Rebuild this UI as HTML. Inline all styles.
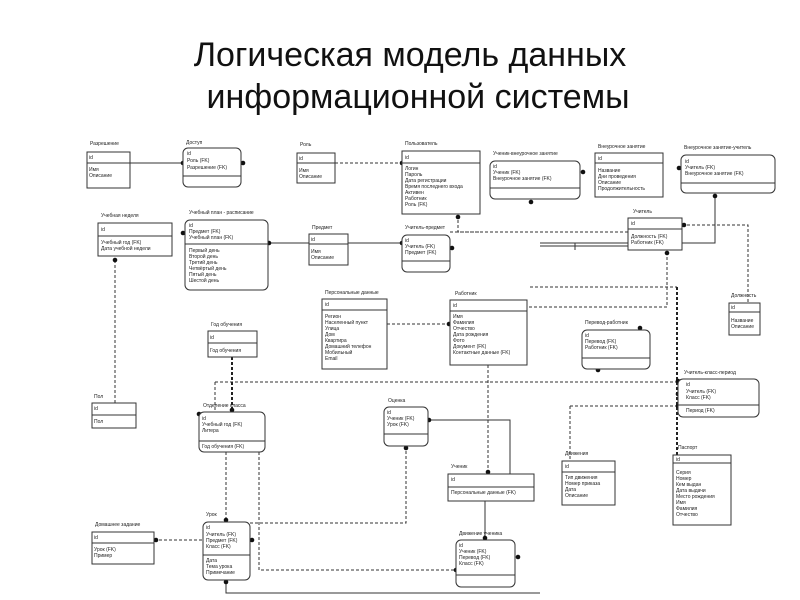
<!DOCTYPE html>
<html><head><meta charset="utf-8"><style>
html,body{margin:0;padding:0;background:#fff;width:800px;height:600px;overflow:hidden}
svg{display:block}
text{font-family:"Liberation Sans","DejaVu Sans",sans-serif;fill:#222}
.t{font-size:5px}
.h{font-size:5px}
.b{fill:#fff;stroke:#333;stroke-width:1}
.s{stroke:#333;stroke-width:1;fill:none}
.d{stroke:#333;stroke-width:1;fill:none;stroke-dasharray:3,2}
.dt{stroke:#222;stroke-width:2;fill:none;stroke-dasharray:3,2}
.title{font-size:34px;fill:#111}
</style></head><body>
<svg width="800" height="600" viewBox="0 0 800 600" xmlns="http://www.w3.org/2000/svg">
<text class="title" x="410" y="66" text-anchor="middle">Логическая модель данных</text>
<text class="title" x="418" y="108" text-anchor="middle">информационной системы</text>

<g>
<path class="s" d="M130 163H183"/>
<path class="d" d="M335 163H402"/>
<path class="d" d="M115 260V403"/>
<path class="s" d="M268 243H309"/>
<path class="s" d="M348 243H402"/>
<path class="d" d="M458 215V232H480"/>
<path class="d" d="M450 232H628"/>
<path class="s" d="M540 243H628M540 246H628"/>
<path class="d" d="M682 225H748V303"/>
<path class="s" d="M682 243H715V196"/>
<path class="d" d="M667 252V307H527"/>
<path class="d" d="M530 287H677"/>
<path class="dt" d="M677 287V455"/>
<path class="d" d="M387 324H450"/>
<path class="d" d="M215 382H678"/>
<path class="dt" d="M232 357V412"/>
<path class="d" d="M215 382V412"/>
<path class="d" d="M570 406H678"/>
<path class="d" d="M570 406V460"/>
<path class="s" d="M430 420H510V474"/>
<path class="d" d="M406 446V523H250"/>
<path class="d" d="M488 365V474"/>
<path class="s" d="M485 501V540"/>
<path class="d" d="M226 452V522"/>
<path class="d" d="M259 452V570H456"/>
<path class="d" d="M154 540H203"/>
<path class="s" d="M226 580V593H540"/>
<path class="s" d="M575 243V250"/>
</g>
<g fill="#111">
<circle cx="183" cy="163" r="2.3"/><circle cx="243" cy="163" r="2.3"/><circle cx="402" cy="163" r="2.3"/>
<circle cx="115" cy="260" r="2.3"/><circle cx="183" cy="233" r="2.3"/><circle cx="269" cy="243" r="2.3"/>
<circle cx="402" cy="243" r="2.3"/><circle cx="452" cy="248" r="2.3"/><circle cx="458" cy="217" r="2.3"/>
<circle cx="583" cy="172" r="2.3"/><circle cx="531" cy="202" r="2.3"/><circle cx="679" cy="168" r="2.3"/>
<circle cx="715" cy="196" r="2.3"/><circle cx="684" cy="225" r="2.3"/><circle cx="667" cy="253" r="2.3"/>
<circle cx="449" cy="324" r="2.3"/><circle cx="640" cy="328" r="2.3"/><circle cx="598" cy="370" r="2.3"/>
<circle cx="678" cy="381" r="2.3"/><circle cx="678" cy="394" r="2.3"/><circle cx="678" cy="406" r="2.3"/>
<circle cx="232" cy="410" r="2.3"/><circle cx="199" cy="414" r="2.3"/><circle cx="429" cy="420" r="2.3"/>
<circle cx="406" cy="448" r="2.3"/><circle cx="488" cy="472" r="2.3"/><circle cx="226" cy="520" r="2.3"/>
<circle cx="252" cy="540" r="2.3"/><circle cx="156" cy="540" r="2.3"/><circle cx="226" cy="582" r="2.3"/>
<circle cx="485" cy="538" r="2.3"/><circle cx="456" cy="570" r="2.3"/><circle cx="518" cy="557" r="2.3"/>
</g>

<g>
<text class="h" x="90" y="145">Разрешение</text>
<rect class="b" x="87" y="152" width="43" height="36"/><path class="s" d="M87 163H130"/>
<text class="t" x="89" y="159">id</text><text class="t" x="89" y="171">Имя</text><text class="t" x="89" y="177">Описание</text>
<text class="h" x="186" y="144">Доступ</text>
<rect class="b" x="183" y="148" width="58" height="39" rx="5"/><path class="s" d="M183 176H241"/>
<text class="t" x="187" y="155">id</text><text class="t" x="187" y="162">Роль (FK)</text><text class="t" x="187" y="169">Разрешение  (FK)</text>
<text class="h" x="300" y="146">Роль</text>
<rect class="b" x="297" y="153" width="38" height="30"/><path class="s" d="M297 163H335"/>
<text class="t" x="299" y="160">id</text><text class="t" x="299" y="172">Имя</text><text class="t" x="299" y="178">Описание</text>
<text class="h" x="405" y="145">Пользователь</text>
<rect class="b" x="402" y="151" width="78" height="63"/><path class="s" d="M402 163H480"/>
<text class="t" x="405" y="159">id</text>
<text class="t" x="405" y="170">Логин</text><text class="t" x="405" y="176">Пароль</text><text class="t" x="405" y="182">Дата регистрации</text><text class="t" x="405" y="188">Время последнего входа</text><text class="t" x="405" y="194">Активен</text><text class="t" x="405" y="200">Работник</text><text class="t" x="405" y="206">Роль (FK)</text>
<text class="h" x="493" y="155">Ученик-внеурочное занятие</text>
<rect class="b" x="490" y="161" width="90" height="38" rx="5"/><path class="s" d="M490 188H580"/>
<text class="t" x="493" y="168">id</text><text class="t" x="493" y="174">Ученик (FK)</text><text class="t" x="493" y="180">Внеурочное занятие  (FK)</text>
<text class="h" x="598" y="148">Внеурочное занятие</text>
<rect class="b" x="595" y="153" width="68" height="44"/><path class="s" d="M595 163H663"/>
<text class="t" x="598" y="160">id</text><text class="t" x="598" y="172">Название</text><text class="t" x="598" y="178">Дни проведения</text><text class="t" x="598" y="184">Описание</text><text class="t" x="598" y="190">Продолжительность</text>
<text class="h" x="684" y="149">Внеурочное занятие-учитель</text>
<rect class="b" x="681" y="155" width="94" height="38" rx="5"/><path class="s" d="M681 183H775"/>
<text class="t" x="685" y="163">id</text><text class="t" x="685" y="169">Учитель (FK)</text><text class="t" x="685" y="175">Внеурочное занятие  (FK)</text>
<text class="h" x="633" y="213">Учитель</text>
<rect class="b" x="628" y="218" width="54" height="32"/><path class="s" d="M628 229H682"/>
<text class="t" x="631" y="225">id</text><text class="t" x="631" y="238">Должность (FK)</text><text class="t" x="631" y="244">Работник (FK)</text>
<text class="h" x="101" y="217">Учебная неделя</text>
<rect class="b" x="98" y="223" width="74" height="33"/><path class="s" d="M98 236H172"/>
<text class="t" x="101" y="231">id</text><text class="t" x="101" y="244">Учебный год (FK)</text><text class="t" x="101" y="250">Дата учебной недели</text>
<text class="h" x="189" y="214">Учебный план - расписание</text>
<rect class="b" x="185" y="220" width="83" height="70" rx="5"/><path class="s" d="M185 244H268"/>
<text class="t" x="189" y="227">id</text><text class="t" x="189" y="233">Предмет (FK)</text><text class="t" x="189" y="239">Учебный план (FK)</text>
<text class="t" x="189" y="252">Первый день</text><text class="t" x="189" y="258">Второй день</text><text class="t" x="189" y="264">Третий день</text><text class="t" x="189" y="270">Четвёртый день</text><text class="t" x="189" y="276">Пятый день</text><text class="t" x="189" y="282">Шестой день</text>
<text class="h" x="312" y="229">Предмет</text>
<rect class="b" x="309" y="234" width="39" height="31"/><path class="s" d="M309 244H348"/>
<text class="t" x="311" y="241">id</text><text class="t" x="311" y="253">Имя</text><text class="t" x="311" y="259">Описание</text>
<text class="h" x="405" y="229">Учитель-предмет</text>
<rect class="b" x="402" y="235" width="48" height="37" rx="5"/><path class="s" d="M402 261H450"/>
<text class="t" x="405" y="242">id</text><text class="t" x="405" y="248">Учитель (FK)</text><text class="t" x="405" y="254">Предмет (FK)</text>
<text class="h" x="325" y="294">Персональные данные</text>
<rect class="b" x="322" y="299" width="65" height="70"/><path class="s" d="M322 310H387"/>
<text class="t" x="325" y="306">id</text>
<text class="t" x="325" y="318">Регион</text><text class="t" x="325" y="324">Населенный пункт</text><text class="t" x="325" y="330">Улица</text><text class="t" x="325" y="336">Дом</text><text class="t" x="325" y="342">Квартира</text><text class="t" x="325" y="348">Домашний телефон</text><text class="t" x="325" y="354">Мобильный</text><text class="t" x="325" y="360">Email</text>
<text class="h" x="455" y="295">Работник</text>
<rect class="b" x="450" y="300" width="77" height="65"/><path class="s" d="M450 311H527"/>
<text class="t" x="453" y="307">id</text>
<text class="t" x="453" y="318">Имя</text><text class="t" x="453" y="324">Фамилия</text><text class="t" x="453" y="330">Отчество</text><text class="t" x="453" y="336">Дата рождения</text><text class="t" x="453" y="342">Фото</text><text class="t" x="453" y="348">Документ  (FK)</text><text class="t" x="453" y="354">Контактные данные  (FK)</text>
<text class="h" x="211" y="326">Год обучения</text>
<rect class="b" x="208" y="331" width="49" height="26"/><path class="s" d="M208 343H257"/>
<text class="t" x="210" y="339">id</text><text class="t" x="210" y="352">Год обучения</text>
<text class="h" x="585" y="324">Перевод-работник</text>
<rect class="b" x="582" y="330" width="68" height="39" rx="5"/><path class="s" d="M582 358H650"/>
<text class="t" x="585" y="337">id</text><text class="t" x="585" y="343">Перевод  (FK)</text><text class="t" x="585" y="349">Работник (FK)</text>
<text class="h" x="731" y="297">Должность</text>
<rect class="b" x="729" y="303" width="31" height="32"/><path class="s" d="M729 312H760"/>
<text class="t" x="731" y="309">id</text><text class="t" x="731" y="322">Название</text><text class="t" x="731" y="328">Описание</text>
<text class="h" x="94" y="398">Пол</text>
<rect class="b" x="92" y="403" width="44" height="25"/><path class="s" d="M92 415H136"/>
<text class="t" x="94" y="410">id</text><text class="t" x="94" y="423">Пол</text>
<text class="h" x="203" y="407">Отделение класса</text>
<rect class="b" x="199" y="412" width="66" height="40" rx="5"/><path class="s" d="M199 441H265"/>
<text class="t" x="202" y="420">id</text><text class="t" x="202" y="426">Учебный год (FK)</text><text class="t" x="202" y="432">Литера</text><text class="t" x="202" y="448">Год обучения  (FK)</text>
<text class="h" x="388" y="402">Оценка</text>
<rect class="b" x="384" y="407" width="44" height="39" rx="5"/><path class="s" d="M384 434H428"/>
<text class="t" x="387" y="414">id</text><text class="t" x="387" y="420">Ученик (FK)</text><text class="t" x="387" y="426">Урок (FK)</text>
<text class="h" x="684" y="374">Учитель-класс-период</text>
<rect class="b" x="678" y="379" width="81" height="38" rx="5"/><path class="s" d="M678 405H759"/>
<text class="t" x="686" y="386">id</text><text class="t" x="686" y="393">Учитель (FK)</text><text class="t" x="686" y="399">Класс (FK)</text><text class="t" x="686" y="412">Период  (FK)</text>
<text class="h" x="206" y="516">Урок</text>
<rect class="b" x="203" y="522" width="47" height="58" rx="5"/><path class="s" d="M203 555H250"/>
<text class="t" x="206" y="529">id</text><text class="t" x="206" y="536">Учитель (FK)</text><text class="t" x="206" y="542">Предмет  (FK)</text><text class="t" x="206" y="548">Класс (FK)</text>
<text class="t" x="206" y="562">Дата</text><text class="t" x="206" y="568">Тема урока</text><text class="t" x="206" y="574">Примечание</text>
<text class="h" x="95" y="526">Домашнее задание</text>
<rect class="b" x="92" y="532" width="62" height="32"/><path class="s" d="M92 543H154"/>
<text class="t" x="94" y="539">id</text><text class="t" x="94" y="551">Урок (FK)</text><text class="t" x="94" y="557">Пример</text>
<text class="h" x="451" y="468">Ученик</text>
<rect class="b" x="448" y="474" width="86" height="27"/><path class="s" d="M448 487H534"/>
<text class="t" x="451" y="481">id</text><text class="t" x="451" y="494">Персональные данные  (FK)</text>
<text class="h" x="565" y="455">Движения</text>
<rect class="b" x="562" y="461" width="53" height="44"/><path class="s" d="M562 472H615"/>
<text class="t" x="565" y="468">id</text><text class="t" x="565" y="479">Тип движения</text><text class="t" x="565" y="485">Номер приказа</text><text class="t" x="565" y="491">Дата</text><text class="t" x="565" y="497">Описание</text>
<text class="h" x="678" y="449">Паспорт</text>
<rect class="b" x="673" y="455" width="58" height="70"/><path class="s" d="M673 463H731"/>
<text class="t" x="676" y="461">id</text>
<text class="t" x="676" y="474">Серия</text><text class="t" x="676" y="480">Номер</text><text class="t" x="676" y="486">Кем выдан</text><text class="t" x="676" y="492">Дата выдачи</text><text class="t" x="676" y="498">Место рождения</text><text class="t" x="676" y="504">Имя</text><text class="t" x="676" y="510">Фамилия</text><text class="t" x="676" y="516">Отчество</text>
<text class="h" x="459" y="535">Движение ученика</text>
<rect class="b" x="456" y="540" width="59" height="47" rx="5"/><path class="s" d="M456 575H515"/>
<text class="t" x="459" y="547">id</text><text class="t" x="459" y="553">Ученик (FK)</text><text class="t" x="459" y="559">Перевод  (FK)</text><text class="t" x="459" y="565">Класс (FK)</text>
</g>
</svg>
</body></html>
